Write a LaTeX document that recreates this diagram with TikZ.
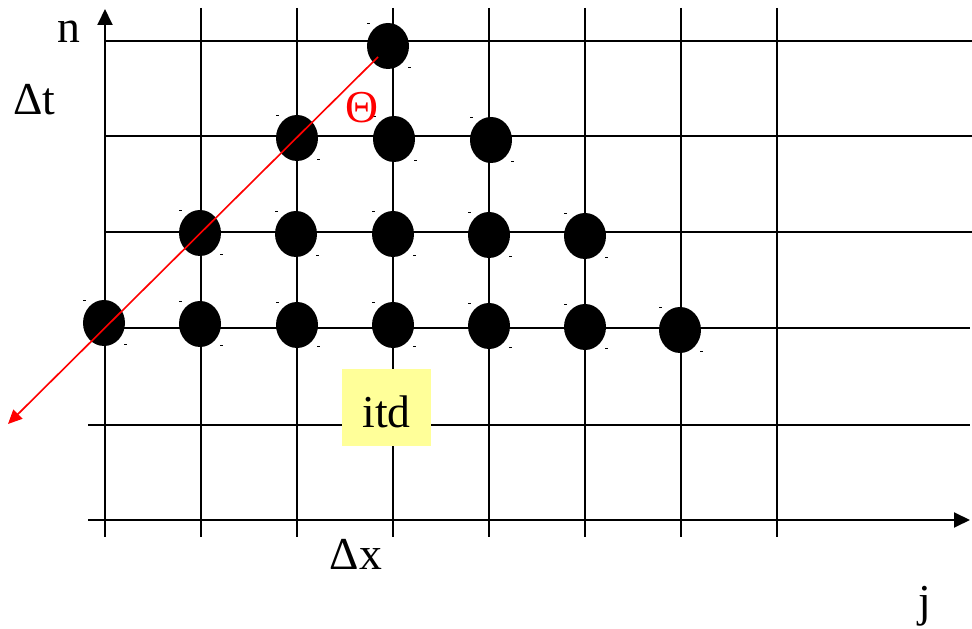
\documentclass[tikz,border=0pt]{standalone}
\usepackage{fontspec}
\setmainfont{Liberation Serif}
\usetikzlibrary{arrows.meta,shapes.geometric}
\definecolor{rayred}{RGB}{255,0,0}
\definecolor{noteyellow}{RGB}{255,255,153}

\begin{document}
\begin{tikzpicture}[x=0.03cm, y=-0.03cm,
    grid/.style={line width=1.6pt, black},
    axis/.style={line width=1.6pt, black, -{Triangle[length=0.48cm, width=0.45cm]}},
    dot/.style={ellipse, fill=black, minimum width=1.26cm, minimum height=1.38cm, inner sep=0pt},
    speck/.style={fill=black},
    lbl/.style={font=\fontsize{39}{40}\selectfont, inner sep=0pt, anchor=base},
    ray/.style={line width=1.4pt, rayred, -{Triangle[length=0.42cm, width=0.38cm]}}
]
    \useasboundingbox (0,0) rectangle (972,629);

    \foreach \x in {201,297,...,777} \draw[grid] (\x,8) -- (\x,537);
    \foreach \y in {41,136,232} \draw[grid] (105,\y) -- (972,\y);
    \foreach \y in {328,425} \draw[grid] (88,\y) -- (970,\y);

    \coordinate (o)  at (105,537);
    \coordinate (nt) at (105,9);
    \coordinate (xo) at (88,520);
    \coordinate (jt) at (970,520);
    \draw[axis] (o) -- (nt);
    \draw[axis] (xo) -- (jt);

    \node[lbl, fill=noteyellow, anchor=center, minimum width=2.67cm, minimum height=2.31cm,
        text height=1.23cm, text depth=0pt] (itd) at (386.5,407.5) {itd};

    \foreach \x/\y/\nm in {104/323/p20, 200/324/p21, 297/325/p22, 393/325/p23, 489/326/p24,
        585/327/p25, 680/330/p26, 200/233/p31, 296/234/p32, 393/234/p33, 489/235/p34,
        585/236/p35, 297/138/p42, 394/139/p43, 491/140/p44, 388/46/p53} {
        \node[dot] (\nm) at (\x,\y) {};
        \fill[speck] ({\x-21},{\y-23}) rectangle ++(3,1.5);
        \fill[speck] ({\x+20},{\y+21}) rectangle ++(3,1.5);
    }

    \coordinate (ra) at (378,57);
    \coordinate (rb) at (8,424);
    \draw[ray] (ra) -- (rb);

    \node[lbl] (n) at (69,43) {n};
    \node[lbl, anchor=base west] (dt) at (13,115) {Δt};
    \node[lbl, text=rayred] (th) at (362,123) {Θ};
    \node[lbl] (dx) at (356,569) {Δx};
    \node[lbl] (j) at (925,616) {j};
\end{tikzpicture}
\end{document}
